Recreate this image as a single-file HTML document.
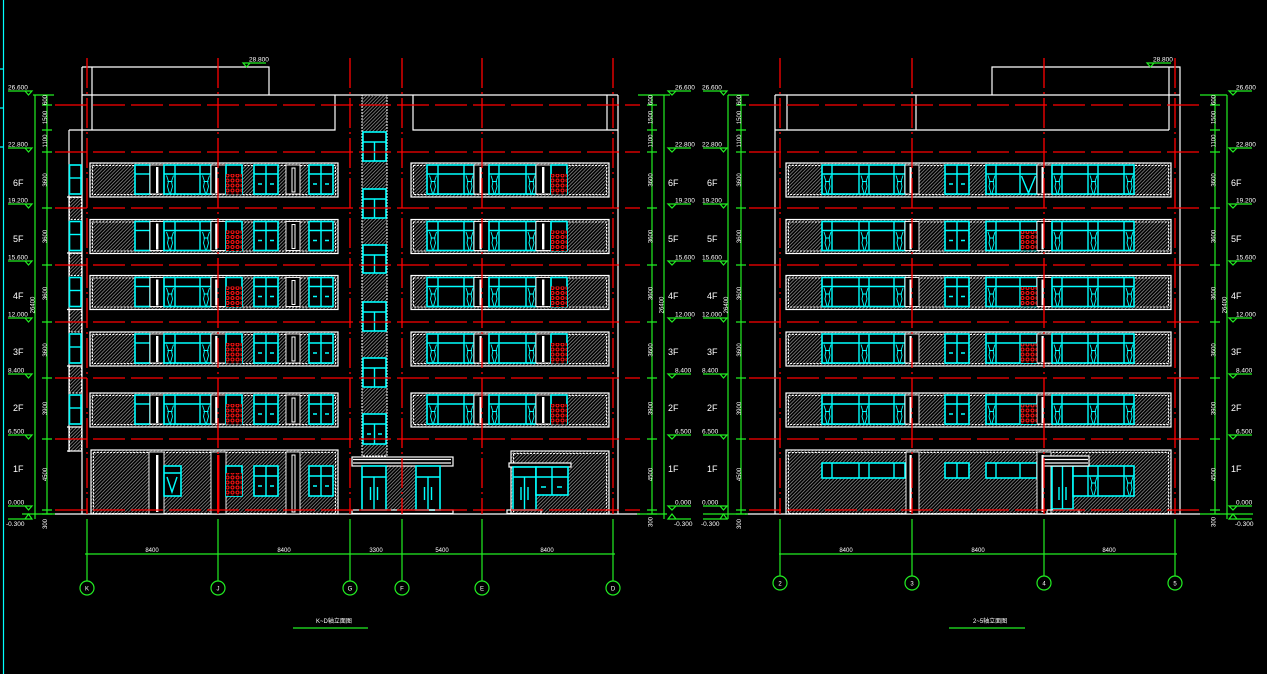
<!DOCTYPE html>
<html><head><meta charset="utf-8"><style>
html,body{margin:0;padding:0;background:#000;}
svg{display:block}
.w{stroke:#fff;stroke-width:1.2;fill:none}
.wh{stroke:#fff;stroke-width:1.2;fill:url(#h)}
.wd{stroke:#fff;stroke-width:1;fill:none;stroke-dasharray:2 1.3}
.p{stroke:#fff;stroke-width:.9;fill:#000}
.c{stroke:#00ffff;stroke-width:1.6;fill:#000}
.cl{stroke:#00ffff;stroke-width:1.4;fill:none}
.g{stroke:#22ee22;stroke-width:1.2;fill:none}
.rh{stroke:#ff0000;stroke-width:1.3;stroke-dasharray:32 6;fill:none}
.rv{stroke:#ff0000;stroke-width:1.3;stroke-dasharray:30 4 2 4;fill:none}
text{font-family:"Liberation Sans","Noto Sans CJK SC",sans-serif;fill:#fff}
.s{font-size:6.5px}
.f{font-size:9px}
.t{font-size:6px}
</style></head><body>
<svg width="1267" height="674" viewBox="0 0 1267 674" xmlns="http://www.w3.org/2000/svg">
<defs>
<pattern id="h" width="3.5" height="3.5" patternUnits="userSpaceOnUse"><path d="M-1,1L1,-1M0,3.5L3.5,0M2.5,4.5L4.5,2.5" stroke="#7c7c7c" stroke-width=".8"/></pattern>
<pattern id="r" width="5" height="5" patternUnits="userSpaceOnUse"><rect width="5" height="5" fill="#000"/><circle cx="2.5" cy="2.5" r="1.5" fill="none" stroke="#ff1010" stroke-width="1.1"/></pattern>
<path id="sq" d="M1,0l2,6l-1,5l2,7M8,0l-2,6l1,5l-2,7M2,6h5" stroke="#00ffff" stroke-width=".9" fill="none"/>
<g id="mR"><path d="M0,-4H24M17,-4H24L20.5,0Z" class="g"/></g>
<g id="mL"><path d="M0,-4H23M0,-4H8L4,0Z" class="g"/></g>
<g id="nR"><path d="M0,5H24M17,5H24L20.5,0Z" class="g"/></g>
<g id="nL"><path d="M0,5H23M0,5H8L4,0Z" class="g"/></g>
<path id="tk" class="g" d="M-5,105h10M-5,130h10M-5,152h10M-5,208h10M-5,265h10M-5,322h10M-5,378h10M-5,439h10M-5,510h10M-5,514h10"/>

<g id="LA">
 <rect x="90" y="0" width="248" height="34" class="wh"/>
 <rect x="92.5" y="2.5" width="243" height="29" class="wd"/>
 <rect x="135" y="2" width="15" height="29" class="c"/>
 <path d="M135,11H150" class="cl"/>
 <rect x="150" y="2" width="14" height="29" class="p"/>
 <rect x="156" y="4" width="2.4" height="26" fill="#fff"/>
 <rect x="164" y="2" width="47" height="29" class="c"/>
 <path d="M175,2V31M200,2V31M164,11H211" class="cl"/>
 <use href="#sq" x="165.5" y="12.5"/><use href="#sq" x="201.5" y="12.5"/>
 <rect x="211" y="2" width="15" height="29" class="p"/>
 <rect x="215.2" y="4" width="2.2" height="26" fill="#fff"/>
 <rect x="226" y="2" width="16" height="29" class="c"/>
 <rect x="226" y="11" width="16" height="20.5" fill="url(#r)"/>
 <rect x="254" y="2" width="24" height="29" class="c"/>
 <path d="M266,2V31M254,11H278M258,21h4M270,21h4" class="cl"/>
 <rect x="286" y="2" width="14" height="29" class="p"/>
 <rect x="292" y="5" width="3" height="24" fill="none" stroke="#fff" stroke-width="1"/>
 <rect x="309" y="2" width="24" height="29" class="c"/>
 <path d="M321,2V31M309,11H333M313,21h4M325,21h4" class="cl"/>
</g>

<g id="LB">
 <rect x="411" y="0" width="198" height="34" class="wh"/>
 <rect x="413.5" y="2.5" width="193" height="29" class="wd"/>
 <rect x="427" y="2" width="47" height="29" class="c"/>
 <path d="M438,2V31M464,2V31M427,11H474" class="cl"/>
 <use href="#sq" x="428.5" y="12.5"/><use href="#sq" x="465" y="12.5"/>
 <rect x="474" y="2" width="15" height="29" class="p"/>
 <rect x="479.5" y="4" width="2.2" height="26" fill="#fff"/>
 <rect x="489" y="2" width="47" height="29" class="c"/>
 <path d="M499,2V31M526,2V31M489,11H536" class="cl"/>
 <use href="#sq" x="490" y="12.5"/><use href="#sq" x="527" y="12.5"/>
 <rect x="536" y="2" width="15" height="29" class="p"/>
 <rect x="542" y="4" width="2.4" height="26" fill="#fff"/>
 <rect x="551" y="2" width="16" height="29" class="c"/>
 <rect x="551" y="11" width="16" height="20.5" fill="url(#r)"/>
</g>

<g id="RB">
 <rect x="786" y="0" width="385" height="34" class="wh"/>
 <rect x="788.5" y="2.5" width="380" height="29" class="wd"/>
 <rect x="822" y="2" width="83" height="29" class="c"/>
 <path d="M832,2V31M859,2V31M869,2V31M894,2V31M822,11H905" class="cl"/>
 <use href="#sq" x="823" y="12.5"/><use href="#sq" x="860" y="12.5"/><use href="#sq" x="895" y="12.5"/>
 <rect x="905" y="2" width="14" height="29" class="p"/>
 <rect x="909.5" y="4" width="2.2" height="26" fill="#fff"/>
 <rect x="945" y="2" width="24" height="29" class="c"/>
 <path d="M957,2V31M945,11H969M949,21h4M961,21h4" class="cl"/>
 <rect x="986" y="2" width="51" height="29" class="c"/>
 <path d="M996,2V31M1020,2V31M986,11H1037" class="cl"/>
 <use href="#sq" x="987" y="12.5"/>
 <rect x="1037" y="2" width="15" height="29" class="p"/>
 <rect x="1041.5" y="4" width="2.2" height="26" fill="#fff"/>
 <rect x="1052" y="2" width="82" height="29" class="c"/>
 <path d="M1062,2V31M1088,2V31M1098,2V31M1124,2V31M1052,11H1134" class="cl"/>
 <use href="#sq" x="1053" y="12.5"/><use href="#sq" x="1089" y="12.5"/><use href="#sq" x="1125" y="12.5"/>
</g>
<rect id="RR" x="1020.8" y="11.5" width="16" height="19.5" fill="url(#r)"/>
</defs>

<rect width="1267" height="674" fill="#000"/>
<path stroke="#00ffff" stroke-width="1.2" d="M3.5,0V674M0,69h4M0,108h4M0,147h4"/>

<!-- LEFT BUILDING outline -->
<path class="w" d="M82,67H269V95M82,95H618M92,67V130M69,130H335V95M69,130V452M82,67V514M413,95V130H618M607,95V130M618,95V514"/>

<!-- left column -->
<g>
 <rect x="69.5" y="165" width="11.5" height="29" class="c"/><path class="cl" d="M69.5,178H81"/>
 <rect x="69.5" y="221.5" width="11.5" height="29" class="c"/><path class="cl" d="M69.5,234.5H81"/>
 <rect x="69.5" y="277.5" width="11.5" height="29" class="c"/><path class="cl" d="M69.5,290.5H81"/>
 <rect x="69.5" y="334" width="11.5" height="29" class="c"/><path class="cl" d="M69.5,347H81"/>
 <rect x="69.5" y="395" width="11.5" height="29" class="c"/><path class="cl" d="M69.5,408H81"/>
 <rect x="69.5" y="197.5" width="12" height="22" fill="url(#h)"/><rect x="69.5" y="197.5" width="12" height="22" class="wd"/>
 <rect x="69.5" y="253.5" width="12" height="22" fill="url(#h)"/><rect x="69.5" y="253.5" width="12" height="22" class="wd"/>
 <rect x="69.5" y="309.5" width="12" height="22.5" fill="url(#h)"/><rect x="69.5" y="309.5" width="12" height="22.5" class="wd"/>
 <rect x="69.5" y="366" width="12" height="27" fill="url(#h)"/><rect x="69.5" y="366" width="12" height="27" class="wd"/>
 <rect x="69.5" y="427" width="12" height="24" fill="url(#h)"/><rect x="69.5" y="427" width="12" height="24" class="wd"/>
 <path class="w" d="M67,197H82M67,253H82M67,309.5H82M67,366H82M67,427H82M67,451H82"/>
</g>

<!-- bands left -->
<use href="#LA" y="163"/><use href="#LA" y="219.5"/><use href="#LA" y="275.5"/><use href="#LA" y="332"/><use href="#LA" y="393"/>
<use href="#LB" y="163"/><use href="#LB" y="219.5"/><use href="#LB" y="275.5"/><use href="#LB" y="332"/><use href="#LB" y="393"/>

<!-- left 1F -->
<rect x="91" y="450" width="247" height="64" class="wh"/>
<rect x="93.5" y="452.5" width="242" height="61" class="wd"/>
<rect x="149" y="452" width="15" height="62" class="p"/>
<rect x="156" y="455" width="2.4" height="57" fill="#fff"/>
<rect x="164" y="466" width="17" height="30" class="c"/>
<path d="M164,473H181M167,477l5,15l5,-15" class="cl"/>
<rect x="211" y="452" width="15" height="62" class="p"/>
<rect x="217" y="455" width="2.4" height="57" fill="#f00"/>
<rect x="226" y="466" width="16" height="30" class="c"/>
<rect x="226" y="473" width="16" height="23" fill="url(#r)"/>
<rect x="254" y="466" width="24" height="30" class="c"/>
<path d="M266,466V496M254,476H278M258,486h4M270,486h4" class="cl"/>
<rect x="286" y="452" width="14" height="62" class="p"/>
<rect x="292" y="455" width="3" height="57" fill="none" stroke="#fff" stroke-width="1"/>
<rect x="309" y="466" width="24" height="30" class="c"/>
<path d="M321,466V496M309,476H333M313,486h4M325,486h4" class="cl"/>

<!-- stair tower -->
<rect x="362" y="95" width="25" height="361" fill="url(#h)" stroke="#fff" stroke-width="1" stroke-dasharray="2 1"/>
<g>
 <rect x="363" y="132" width="23" height="29" class="c"/><path class="cl" d="M363,142H386M374.5,142V161"/>
 <rect x="363" y="189" width="23" height="29" class="c"/><path class="cl" d="M363,199H386M374.5,199V218"/>
 <rect x="363" y="245" width="23" height="28" class="c"/><path class="cl" d="M363,255H386M374.5,255V273"/>
 <rect x="363" y="302" width="23" height="29" class="c"/><path class="cl" d="M363,312H386M374.5,312V331"/>
 <rect x="363" y="358" width="23" height="29" class="c"/><path class="cl" d="M363,368H386M374.5,368V387"/>
 <rect x="363" y="414" width="23" height="30" class="c"/><path class="cl" d="M363,424H386M374.5,424V444M367,434h4M378,434h4"/>
</g>

<!-- main entrance -->
<rect x="386" y="466" width="30" height="44" fill="url(#h)"/>
<rect x="352" y="457" width="101" height="9" class="w" style="fill:#000"/>
<path class="w" d="M353,459.5H451M353,463H451"/>
<rect x="362" y="466" width="24" height="44" class="c"/>
<path class="cl" d="M362,477H386M374,477V510M370.5,487V500M377.5,487V500"/>
<rect x="416" y="466" width="24" height="44" class="c"/>
<path class="cl" d="M416,477H440M428,477V510M424.5,487V500M431.5,487V500"/>
<rect x="352" y="510" width="101" height="3.5" class="w"/>

<!-- right entrance block -->
<rect x="511" y="451" width="98" height="63" class="wh"/>
<rect x="513.5" y="453.5" width="93" height="60" class="wd"/>
<rect x="509" y="463" width="62" height="4" class="w" style="fill:#000"/>
<rect x="513" y="467" width="23" height="43" class="c"/>
<path class="cl" d="M513,477H536M524.5,477V510M521,487V500M528,487V500"/>
<rect x="536" y="467" width="32" height="28" class="c"/>
<path class="cl" d="M536,477H568M552,467V495M541,487h5M557,487h5"/>
<rect x="507" y="510" width="34" height="3.5" class="w"/>

<!-- RIGHT BUILDING outline -->
<path class="w" d="M992,95V67H1180V514M775,95H1180M775,95V514M787,95V130M916,95V130M775,130H1169M1169,67V130"/>

<use href="#RB" y="163"/><use href="#RB" y="219.5"/><use href="#RB" y="275.5"/><use href="#RB" y="332"/><use href="#RB" y="393"/>
<path class="cl" d="M1021.5,176l7,17l7,-17"/>
<use href="#RR" y="219.5"/><use href="#RR" y="275.5"/><use href="#RR" y="332"/><use href="#RR" y="393"/>

<!-- right 1F -->
<rect x="786" y="450" width="385" height="64" class="wh"/>
<rect x="788.5" y="452.5" width="380" height="61" class="wd"/>
<rect x="822" y="463" width="83" height="15" class="c"/>
<path class="cl" d="M832,463V478M859,463V478M869,463V478M894,463V478"/>
<rect x="906" y="452" width="13" height="62" class="p"/>
<rect x="909.5" y="455" width="2.2" height="57" fill="#fff"/>
<rect x="945" y="463" width="24" height="15" class="c"/>
<path class="cl" d="M957,463V478"/>
<rect x="986" y="463" width="51" height="15" class="c"/>
<path class="cl" d="M996,463V478M1020,463V478"/>
<rect x="1037" y="452" width="14" height="62" class="p"/>
<rect x="1041.5" y="455" width="2.2" height="57" fill="#fff"/>
<rect x="1052" y="466" width="21" height="43" class="c"/>
<path class="cl" d="M1062.5,466V509M1059,487V500M1066,487V500"/>
<rect x="1073" y="466" width="61" height="30" class="c"/>
<path class="cl" d="M1088,466V496M1098,466V496M1124,466V496M1073,476H1134"/>
<use href="#sq" x="1089" y="477"/><use href="#sq" x="1125" y="477"/>
<rect x="1043" y="456" width="46" height="10" class="w" style="fill:#000"/>
<path class="w" d="M1044,459.5H1088M1044,463H1088"/>
<rect x="1047" y="510" width="32" height="3.5" class="w"/>

<!-- ground -->
<path class="w" d="M55,514H640M745,514H1200"/>

<!-- red floor lines -->
<path class="rh" d="M55,105H640M55,152H640M55,208H640M55,265H640M55,322H640M55,378H640M55,439H640M55,510H640"/>
<path class="rh" d="M749,105H1200M749,152H1200M749,208H1200M749,265H1200M749,322H1200M749,378H1200M749,439H1200M749,510H1200"/>
<!-- red axes -->
<path class="rv" d="M87,58V514M218,58V514M350,58V514M402,58V514M482,58V514M613,58V514M780,58V514M912,58V514M1044,58V514M1175,58V514"/>

<!-- top markers -->
<path class="g" d="M243,63H266M243,63H250L246.5,67Z"/>
<text class="s" x="249" y="61.5">28.800</text>
<path class="g" d="M1147,63H1171M1147,63H1154L1150.5,67Z"/>
<text class="s" x="1153" y="61.5">28.800</text>

<!-- DIMENSIONS: left-left -->
<path class="g" d="M47,95V514M35,95V519M33,95H54M22,514H55"/>
<use href="#tk" x="47"/>
<use href="#mR" x="8" y="95"/><use href="#mR" x="8" y="152"/><use href="#mR" x="8" y="208"/><use href="#mR" x="8" y="265"/><use href="#mR" x="8" y="322"/><use href="#mR" x="8" y="378"/><use href="#mR" x="8" y="439"/><use href="#mR" x="8" y="510"/><use href="#nR" x="8" y="514"/>
<g class="s">
<text x="8" y="89.5">26.600</text><text x="8" y="146.5">22.800</text><text x="8" y="202.5">19.200</text><text x="8" y="259.5">15.600</text><text x="8" y="316.5">12.000</text><text x="8" y="372.5">8.400</text><text x="8" y="433.5">6.500</text><text x="8" y="504.5">0.000</text><text x="6" y="526">-0.300</text>
</g>
<g class="f">
<text x="13" y="186">6F</text><text x="13" y="242">5F</text><text x="13" y="299">4F</text><text x="13" y="355">3F</text><text x="13" y="411">2F</text><text x="13" y="472">1F</text>
</g>
<g class="t" text-anchor="middle">
<text transform="translate(47,100) rotate(-90)">600</text>
<text transform="translate(47,117.5) rotate(-90)">1500</text>
<text transform="translate(47,141) rotate(-90)">1100</text>
<text transform="translate(47,180) rotate(-90)">3600</text>
<text transform="translate(47,236.5) rotate(-90)">3600</text>
<text transform="translate(47,293.5) rotate(-90)">3600</text>
<text transform="translate(47,350) rotate(-90)">3600</text>
<text transform="translate(47,408.5) rotate(-90)">3900</text>
<text transform="translate(47,474.5) rotate(-90)">4500</text>
<text transform="translate(47,524) rotate(-90)">300</text>
<text transform="translate(34.5,305) rotate(-90)">26400</text>
</g>

<!-- left-right -->
<path class="g" d="M652,95V514M664,95V519M638,95H670M637,514H667"/>
<use href="#tk" x="652"/>
<use href="#mL" x="668" y="95"/><use href="#mL" x="668" y="152"/><use href="#mL" x="668" y="208"/><use href="#mL" x="668" y="265"/><use href="#mL" x="668" y="322"/><use href="#mL" x="668" y="378"/><use href="#mL" x="668" y="439"/><use href="#mL" x="668" y="510"/><use href="#nL" x="668" y="514"/>
<g class="s">
<text x="675" y="89.5">26.600</text><text x="675" y="146.5">22.800</text><text x="675" y="202.5">19.200</text><text x="675" y="259.5">15.600</text><text x="675" y="316.5">12.000</text><text x="675" y="372.5">8.400</text><text x="675" y="433.5">6.500</text><text x="675" y="504.5">0.000</text><text x="674" y="526">-0.300</text>
</g>
<g class="f">
<text x="668" y="186">6F</text><text x="668" y="242">5F</text><text x="668" y="299">4F</text><text x="668" y="355">3F</text><text x="668" y="411">2F</text><text x="668" y="472">1F</text>
</g>
<g class="t" text-anchor="middle">
<text transform="translate(652.5,100) rotate(-90)">600</text>
<text transform="translate(652.5,117.5) rotate(-90)">1500</text>
<text transform="translate(652.5,141) rotate(-90)">1100</text>
<text transform="translate(652.5,180) rotate(-90)">3600</text>
<text transform="translate(652.5,236.5) rotate(-90)">3600</text>
<text transform="translate(652.5,293.5) rotate(-90)">3600</text>
<text transform="translate(652.5,350) rotate(-90)">3600</text>
<text transform="translate(652.5,408.5) rotate(-90)">3900</text>
<text transform="translate(652.5,474.5) rotate(-90)">4500</text>
<text transform="translate(652.5,522) rotate(-90)">300</text>
<text transform="translate(663.5,305) rotate(-90)">26400</text>
</g>

<!-- right-left -->
<path class="g" d="M741,95V514M728,95V519M728,95H749M703,514H748"/>
<use href="#tk" x="741"/>
<use href="#mR" x="703" y="95"/><use href="#mR" x="703" y="152"/><use href="#mR" x="703" y="208"/><use href="#mR" x="703" y="265"/><use href="#mR" x="703" y="322"/><use href="#mR" x="703" y="378"/><use href="#mR" x="703" y="439"/><use href="#mR" x="703" y="510"/><use href="#nR" x="703" y="514"/>
<g class="s">
<text x="702" y="89.5">26.600</text><text x="702" y="146.5">22.800</text><text x="702" y="202.5">19.200</text><text x="702" y="259.5">15.600</text><text x="702" y="316.5">12.000</text><text x="702" y="372.5">8.400</text><text x="702" y="433.5">6.500</text><text x="702" y="504.5">0.000</text><text x="701" y="526">-0.300</text>
</g>
<g class="f">
<text x="707" y="186">6F</text><text x="707" y="242">5F</text><text x="707" y="299">4F</text><text x="707" y="355">3F</text><text x="707" y="411">2F</text><text x="707" y="472">1F</text>
</g>
<g class="t" text-anchor="middle">
<text transform="translate(741,100) rotate(-90)">600</text>
<text transform="translate(741,117.5) rotate(-90)">1500</text>
<text transform="translate(741,141) rotate(-90)">1100</text>
<text transform="translate(741,180) rotate(-90)">3600</text>
<text transform="translate(741,236.5) rotate(-90)">3600</text>
<text transform="translate(741,293.5) rotate(-90)">3600</text>
<text transform="translate(741,350) rotate(-90)">3600</text>
<text transform="translate(741,408.5) rotate(-90)">3900</text>
<text transform="translate(741,474.5) rotate(-90)">4500</text>
<text transform="translate(741,524) rotate(-90)">300</text>
<text transform="translate(728,305) rotate(-90)">26400</text>
</g>

<!-- right-right -->
<path class="g" d="M1215,95V514M1227,95V519M1200,95H1227M1200,514H1253"/>
<use href="#tk" x="1215"/>
<use href="#mL" x="1229" y="95"/><use href="#mL" x="1229" y="152"/><use href="#mL" x="1229" y="208"/><use href="#mL" x="1229" y="265"/><use href="#mL" x="1229" y="322"/><use href="#mL" x="1229" y="378"/><use href="#mL" x="1229" y="439"/><use href="#mL" x="1229" y="510"/><use href="#nL" x="1229" y="514"/>
<g class="s">
<text x="1236" y="89.5">26.600</text><text x="1236" y="146.5">22.800</text><text x="1236" y="202.5">19.200</text><text x="1236" y="259.5">15.600</text><text x="1236" y="316.5">12.000</text><text x="1236" y="372.5">8.400</text><text x="1236" y="433.5">6.500</text><text x="1236" y="504.5">0.000</text><text x="1235" y="526">-0.300</text>
</g>
<g class="f">
<text x="1231" y="186">6F</text><text x="1231" y="242">5F</text><text x="1231" y="299">4F</text><text x="1231" y="355">3F</text><text x="1231" y="411">2F</text><text x="1231" y="472">1F</text>
</g>
<g class="t" text-anchor="middle">
<text transform="translate(1215.5,100) rotate(-90)">600</text>
<text transform="translate(1215.5,117.5) rotate(-90)">1500</text>
<text transform="translate(1215.5,141) rotate(-90)">1100</text>
<text transform="translate(1215.5,180) rotate(-90)">3600</text>
<text transform="translate(1215.5,236.5) rotate(-90)">3600</text>
<text transform="translate(1215.5,293.5) rotate(-90)">3600</text>
<text transform="translate(1215.5,350) rotate(-90)">3600</text>
<text transform="translate(1215.5,408.5) rotate(-90)">3900</text>
<text transform="translate(1215.5,474.5) rotate(-90)">4500</text>
<text transform="translate(1215.5,522) rotate(-90)">300</text>
<text transform="translate(1226.5,305) rotate(-90)">26400</text>
</g>

<!-- bottom axis dims left -->
<path class="g" d="M87,519V581M218,519V581M350,519V581M402,519V581M482,519V581M613,519V581M85,554H615"/>
<g fill="none" stroke="#22ee22" stroke-width="1.2">
<circle cx="87" cy="588" r="7"/><circle cx="218" cy="588" r="7"/><circle cx="350" cy="588" r="7"/><circle cx="402" cy="588" r="7"/><circle cx="482" cy="588" r="7"/><circle cx="613" cy="588" r="7"/>
</g>
<g class="t" text-anchor="middle">
<text x="87" y="590.5">K</text><text x="218" y="590.5">J</text><text x="350" y="590.5">G</text><text x="402" y="590.5">F</text><text x="482" y="590.5">E</text><text x="613" y="590.5">D</text>
<text x="152" y="552">8400</text><text x="284" y="552">8400</text><text x="376" y="552">3300</text><text x="442" y="552">5400</text><text x="547" y="552">8400</text>
</g>

<!-- bottom axis dims right -->
<path class="g" d="M780,519V576M912,519V576M1044,519V576M1175,519V576M779,554H1177"/>
<g fill="none" stroke="#22ee22" stroke-width="1.2">
<circle cx="780" cy="583" r="7"/><circle cx="912" cy="583" r="7"/><circle cx="1044" cy="583" r="7"/><circle cx="1175" cy="583" r="7"/>
</g>
<g class="t" text-anchor="middle">
<text x="780" y="585.5">2</text><text x="912" y="585.5">3</text><text x="1044" y="585.5">4</text><text x="1175" y="585.5">5</text>
<text x="846" y="552">8400</text><text x="978" y="552">8400</text><text x="1109" y="552">8400</text>
</g>

<!-- titles -->
<text class="t" x="316" y="623">K~D轴立面图</text>
<path class="g" d="M293,628H368"/>
<text class="t" x="973" y="623">2~5轴立面图</text>
<path class="g" d="M949,628H1025"/>
</svg>
</body></html>
